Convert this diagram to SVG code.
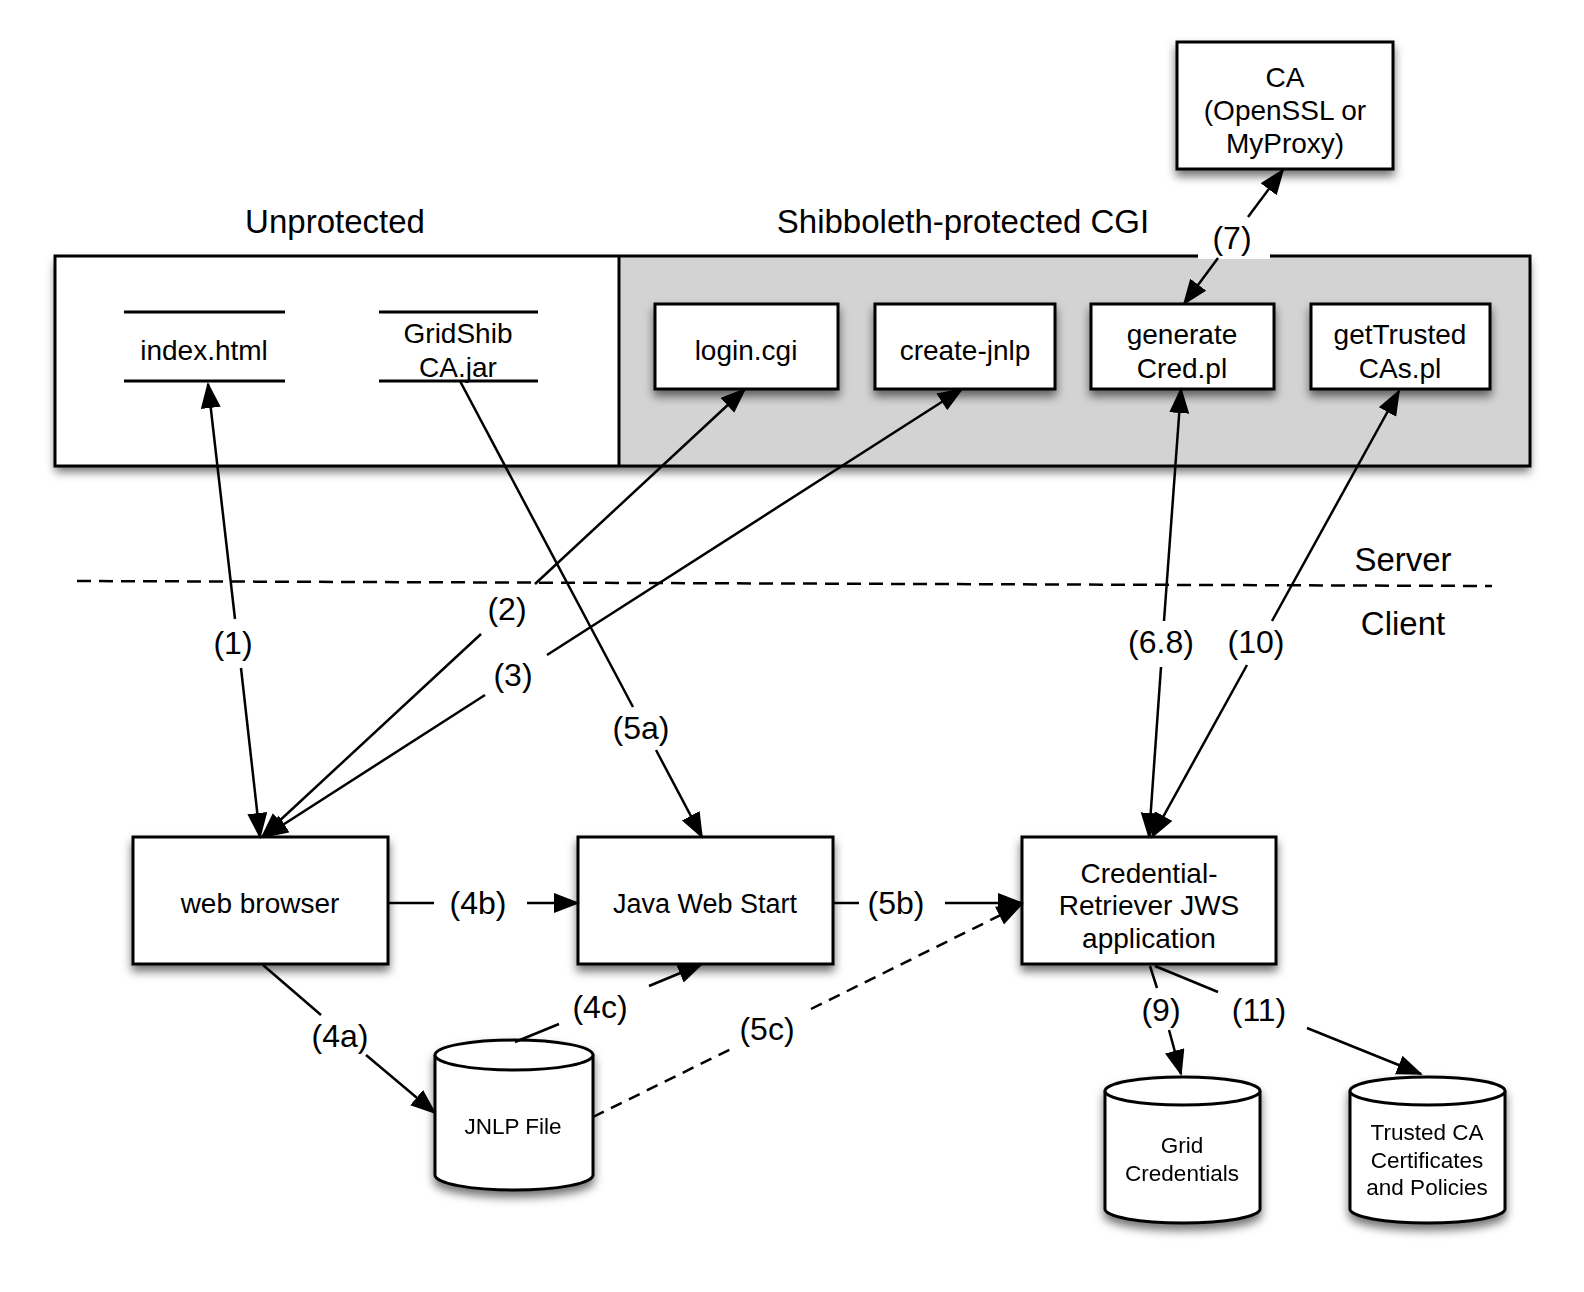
<svg xmlns="http://www.w3.org/2000/svg" width="1584" height="1292" viewBox="0 0 1584 1292">
<style>
text{font-family:"Liberation Sans",Arial,Helvetica,sans-serif;fill:#000;text-anchor:middle}
.big{font-size:33px}
.box{fill:#fff;stroke:#000;stroke-width:3}
.t28{font-size:28px}
.t27{font-size:27px}
.t22{font-size:22.5px}
.lbl{font-size:32px}
.ln{fill:none;stroke:#000;stroke-width:2.5}
.dash{stroke-dasharray:12 8}
.sep{fill:none;stroke:#000;stroke-width:2.5;stroke-dasharray:14 8}
</style>
<defs>
<filter id="sh" x="-10%" y="-10%" width="120%" height="130%">
<feDropShadow dx="0" dy="6" stdDeviation="5" flood-color="#000" flood-opacity="0.55"/>
</filter>
<marker id="ah" markerUnits="userSpaceOnUse" markerWidth="28" markerHeight="22" viewBox="0 0 28 22" refX="24" refY="10" orient="auto">
<path d="M0,0 L26,10 L0,20 z" fill="#000"/>
</marker>
</defs>

<g id="containers">
<rect x="55" y="256" width="1475" height="210" fill="#fff" stroke="none" filter="url(#sh)"/>
<rect x="619" y="256" width="911" height="210" fill="#d3d3d3"/>
<rect x="55" y="256" width="1475" height="210" fill="none" stroke="#000" stroke-width="3"/>
<line x1="619" y1="256" x2="619" y2="466" stroke="#000" stroke-width="3"/>
<text class="big" x="335" y="233">Unprotected</text>
<text class="big" x="963" y="233">Shibboleth-protected CGI</text>
</g>

<g id="separator">
<line class="sep" x1="77" y1="581" x2="1492" y2="586"/>
<text class="big" x="1403" y="571">Server</text>
<text class="big" x="1403" y="635">Client</text>
</g>

<g id="index-html">
<line x1="124" y1="312" x2="285" y2="312" stroke="#000" stroke-width="3"/>
<line x1="124" y1="381" x2="285" y2="381" stroke="#000" stroke-width="3"/>
<text class="t28" x="204" y="360">index.html</text>
</g>

<g id="gridshib-ca-jar">
<line x1="379" y1="312" x2="538" y2="312" stroke="#000" stroke-width="3"/>
<line x1="379" y1="381" x2="538" y2="381" stroke="#000" stroke-width="3"/>
<text class="t28" x="458" y="343">GridShib</text>
<text class="t28" x="458" y="377">CA.jar</text>
</g>

<g id="login-cgi">
<rect class="box" x="655" y="304" width="183" height="85" filter="url(#sh)"/>
<text class="t28" x="746" y="360">login.cgi</text>
</g>

<g id="create-jnlp">
<rect class="box" x="875" y="304" width="180" height="85" filter="url(#sh)"/>
<text class="t28" x="965" y="360">create-jnlp</text>
</g>

<g id="generate-cred">
<rect class="box" x="1091" y="304" width="183" height="85" filter="url(#sh)"/>
<text class="t28" x="1182" y="344">generate</text>
<text class="t28" x="1182" y="378">Cred.pl</text>
</g>

<g id="get-trusted-cas">
<rect class="box" x="1311" y="304" width="179" height="85" filter="url(#sh)"/>
<text class="t28" x="1400" y="344">getTrusted</text>
<text class="t28" x="1400" y="378">CAs.pl</text>
</g>

<g id="ca">
<rect class="box" x="1177" y="42" width="216" height="127" filter="url(#sh)"/>
<text class="t28" x="1285" y="87">CA</text>
<text class="t28" x="1285" y="120">(OpenSSL or</text>
<text class="t28" x="1285" y="153">MyProxy)</text>
</g>

<g id="web-browser">
<rect class="box" x="133" y="837" width="255" height="127" filter="url(#sh)"/>
<text class="t28" x="260" y="913">web browser</text>
</g>

<g id="java-web-start">
<rect class="box" x="578" y="837" width="255" height="127" filter="url(#sh)"/>
<text class="t27" x="705" y="913">Java Web Start</text>
</g>

<g id="credential-retriever">
<rect class="box" x="1022" y="837" width="254" height="127" filter="url(#sh)"/>
<text class="t28" x="1149" y="883">Credential-</text>
<text class="t28" x="1149" y="915">Retriever JWS</text>
<text class="t28" x="1149" y="948">application</text>
</g>

<g id="jnlp-file" filter="url(#sh)">
<path class="box" d="M435,1055 L435,1175 A79,15 0 0 0 593,1175 L593,1055"/>
<ellipse class="box" cx="514" cy="1055" rx="79" ry="15"/>
<text class="t22" x="513" y="1134">JNLP File</text>
</g>

<g id="grid-credentials" filter="url(#sh)">
<path class="box" d="M1105,1091 L1105,1209 A77.5,14 0 0 0 1260,1209 L1260,1091"/>
<ellipse class="box" cx="1182.5" cy="1091" rx="77.5" ry="14"/>
<text class="t22" x="1182" y="1153">Grid</text>
<text class="t22" x="1182" y="1181">Credentials</text>
</g>

<g id="trusted-ca-certificates" filter="url(#sh)">
<path class="box" d="M1350,1091 L1350,1209 A77.5,14 0 0 0 1505,1209 L1505,1091"/>
<ellipse class="box" cx="1427.5" cy="1091" rx="77.5" ry="14"/>
<text class="t22" x="1427" y="1140">Trusted CA</text>
<text class="t22" x="1427" y="1168">Certificates</text>
<text class="t22" x="1427" y="1195">and Policies</text>
</g>

<g id="connectors">
<!-- (1) -->
<path class="ln" d="M235,619 L208,384" marker-end="url(#ah)"/>
<path class="ln" d="M241,668 L260,837" marker-end="url(#ah)"/>
<text class="lbl" x="233" y="654">(1)</text>
<!-- (2) -->
<path class="ln" d="M535,584 L745,389" marker-end="url(#ah)"/>
<path class="ln" d="M481,634 L262,837" marker-end="url(#ah)"/>
<text class="lbl" x="507" y="620">(2)</text>
<!-- (3) -->
<path class="ln" d="M547,655 L962,389" marker-end="url(#ah)"/>
<path class="ln" d="M485,695 L264,837" marker-end="url(#ah)"/>
<text class="lbl" x="513" y="686">(3)</text>
<!-- (5a) -->
<path class="ln" d="M460,381 L633,707"/>
<path class="ln" d="M656,750 L702,837" marker-end="url(#ah)"/>
<text class="lbl" x="641" y="739">(5a)</text>
<!-- (4b) -->
<path class="ln" d="M388,903 L434,903"/>
<path class="ln" d="M527,903 L578,903" marker-end="url(#ah)"/>
<text class="lbl" x="478" y="914">(4b)</text>
<!-- (5b) -->
<path class="ln" d="M833,903 L859,903"/>
<path class="ln" d="M945,903 L1022,903" marker-end="url(#ah)"/>
<text class="lbl" x="896" y="914">(5b)</text>
<!-- (4a) -->
<path class="ln" d="M263,965 L321,1015"/>
<path class="ln" d="M366,1055 L435,1113" marker-end="url(#ah)"/>
<text class="lbl" x="340" y="1047">(4a)</text>
<!-- (4c) -->
<path class="ln" d="M515,1042 L559,1024"/>
<path class="ln" d="M649,986 L702,964" marker-end="url(#ah)"/>
<text class="lbl" x="600" y="1018">(4c)</text>
<!-- (5c) -->
<path class="ln dash" d="M593,1117 L731,1049"/>
<path class="ln dash" d="M811,1009 L1021,905" marker-end="url(#ah)"/>
<text class="lbl" x="767" y="1040">(5c)</text>
<!-- (6.8) -->
<path class="ln" d="M1164,621 L1181,389" marker-end="url(#ah)"/>
<path class="ln" d="M1161,667 L1149,837" marker-end="url(#ah)"/>
<text class="lbl" x="1161" y="653">(6.8)</text>
<!-- (10) -->
<path class="ln" d="M1272,621 L1399,391" marker-end="url(#ah)"/>
<path class="ln" d="M1247,665 L1152,837" marker-end="url(#ah)"/>
<text class="lbl" x="1256" y="653">(10)</text>
<!-- (7) -->
<rect x="1198" y="200" width="72" height="59" fill="#fff"/>
<path class="ln" d="M1248,217 L1283,170" marker-end="url(#ah)"/>
<path class="ln" d="M1218,258 L1184,304" marker-end="url(#ah)"/>
<text class="lbl" x="1232" y="249">(7)</text>
<!-- (9) -->
<path class="ln" d="M1150,966 L1157,988"/>
<path class="ln" d="M1169,1030 L1181,1074" marker-end="url(#ah)"/>
<text class="lbl" x="1161" y="1021">(9)</text>
<!-- (11) -->
<path class="ln" d="M1155,966 L1218,992"/>
<path class="ln" d="M1307,1028 L1421,1074" marker-end="url(#ah)"/>
<text class="lbl" x="1259" y="1021">(11)</text>
</g>
</svg>
